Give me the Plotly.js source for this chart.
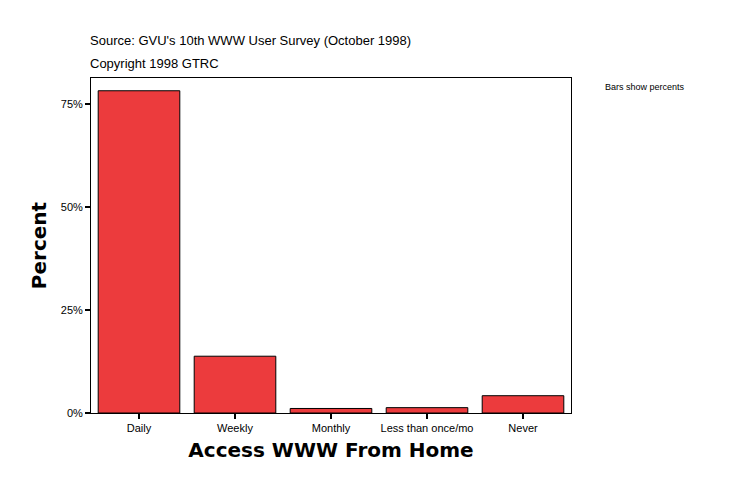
<!DOCTYPE html>
<html><head><meta charset="utf-8">
<script src="https://cdn.plot.ly/plotly-3.0.1.min.js"></script>
<style>body{margin:0;background:#fff}#c{width:734px;height:496px}</style>
</head><body><div id="c"></div>
<script>
var categories = ["Daily", "Weekly", "Monthly", "Less than once/mo", "Never"];
var percents = [78.3, 13.8, 1.1, 1.3, 4.2];
var yTickVals = [0, 25, 50, 75];
var yTickText = ["0%", "25%", "50%", "75%"];

var trace = {
  type: "bar", x: categories, y: percents,
  marker: {color: "#EC3B3D", line: {color: "#000", width: 1}},
  hoverinfo: "none"
};
var layout = {
  width: 734, height: 496,
  margin: {l: 91, r: 163, t: 78, b: 83},
  paper_bgcolor: "#fff", plot_bgcolor: "#fff",
  font: {family: "Liberation Sans, Arial, sans-serif", color: "#000", size: 11},
  bargap: 0.15,
  showlegend: false,
  xaxis: {
    showline: true, linecolor: "#000", linewidth: 1, mirror: true,
    ticks: "outside", ticklen: 5, tickwidth: 2, tickcolor: "#000",
    tickfont: {size: 11, color: "#000"},
    title: {text: "Access WWW From Home", font: {size: 20, family: "DejaVu Sans, Arial, sans-serif", weight: "bold", color: "#000"}, standoff: 9}
  },
  yaxis: {
    range: [0, 81.4], showgrid: false, zeroline: false,
    showline: true, linecolor: "#000", linewidth: 1, mirror: true,
    ticks: "outside", ticklen: 5, tickwidth: 2, tickcolor: "#000",
    tickvals: yTickVals, ticktext: yTickText, tickfont: {size: 11, color: "#000"},
    title: {text: "Percent", font: {size: 20, family: "DejaVu Sans, Arial, sans-serif", weight: "bold", color: "#000"}, standoff: 8}
  },
  annotations: [
    {text: "Source: GVU's 10th WWW User Survey (October 1998)", xref: "paper", yref: "paper",
     x: 0, y: 1, xanchor: "left", yanchor: "bottom", yshift: 28, xshift: -3, showarrow: false, font: {size: 13, color: "#000"}},
    {text: "Copyright 1998 GTRC", xref: "paper", yref: "paper",
     x: 0, y: 1, xanchor: "left", yanchor: "bottom", yshift: 5, xshift: -3, showarrow: false, font: {size: 13, color: "#000"}},
    {text: "Bars show percents", xref: "paper", yref: "paper",
     x: 1, y: 1, xanchor: "left", yanchor: "top", xshift: 32, yshift: -2, showarrow: false, font: {size: 9, color: "#000"}}
  ]
};
Plotly.newPlot("c", [trace], layout, {displayModeBar: false, staticPlot: true});
</script></body></html>
